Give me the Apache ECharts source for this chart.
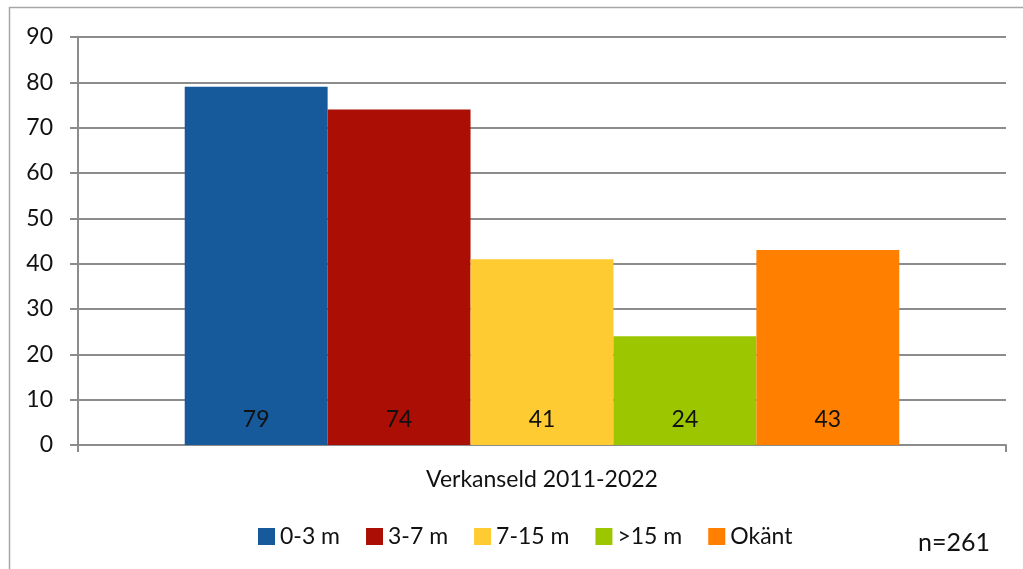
<!DOCTYPE html>
<html><head><meta charset="utf-8">
<script src="https://cdn.jsdelivr.net/npm/echarts@6/dist/echarts.min.js"></script>
<style>html,body{margin:0;padding:0;background:#fff}#c{width:1023px;height:569px}</style>
</head><body><div id="c"></div>
<script>
const categories = ['Verkanseld 2011-2022'];
const seriesNames = ['0-3 m', '3-7 m', '7-15 m', '>15 m', 'Okänt'];
const values = [79, 74, 41, 24, 43];
const colors = ['#175a9b', '#aa0e04', '#fecb32', '#9cc700', '#ff8000'];
const yTicks = [0, 10, 20, 30, 40, 50, 60, 70, 80, 90];
const note = 'n=261';

const FONT = 'Lato';
const FS = 23;
const chart = echarts.init(document.getElementById('c'));
chart.setOption({
  animation: false,
  textStyle: { fontFamily: FONT },
  grid: { left: 78, right: 17, top: 37, bottom: 124 },
  xAxis: {
    type: 'category', data: categories,
    axisLine: { lineStyle: { color: '#8c8c8c', width: 2 } },
    axisTick: { show: true, length: 7, lineStyle: { color: '#8c8c8c', width: 2 } },
    axisLabel: { margin: 23, fontSize: FS, color: '#111', fontFamily: FONT }
  },
  yAxis: {
    type: 'value', min: yTicks[0], max: yTicks[yTicks.length - 1], interval: 10,
    axisLine: { show: true, lineStyle: { color: '#8c8c8c', width: 2 } },
    axisTick: { show: true, length: 8, lineStyle: { color: '#8c8c8c', width: 2 } },
    splitLine: { lineStyle: { color: '#8c8c8c', width: 2 } },
    axisLabel: { margin: 25, fontSize: FS, color: '#111', fontFamily: FONT }
  },
  legend: {
    top: 520, left: 253, itemWidth: 17, itemHeight: 17, itemGap: 26,
    icon: 'rect', textStyle: { fontSize: FS, color: '#111', fontFamily: FONT },
    data: seriesNames
  },
  series: seriesNames.map((n, i) => ({
    name: n, type: 'bar', data: [values[i]],
    barGap: '0%', barCategoryGap: '23%',
    itemStyle: { color: colors[i] },
    label: { show: true, position: 'insideBottom', distance: 14, fontSize: FS, color: '#111', fontFamily: FONT }
  })),
  graphic: [
    { type: 'rect', shape: { x: 9.5, y: 7.5, width: 1100, height: 700 }, style: { fill: 'none', stroke: '#a6a6a6', lineWidth: 1.5 }, silent: true },
    { type: 'text', left: 918, top: 530, style: { text: note, fontSize: 25, fill: '#111', fontFamily: FONT } }
  ]
});
</script></body></html>
